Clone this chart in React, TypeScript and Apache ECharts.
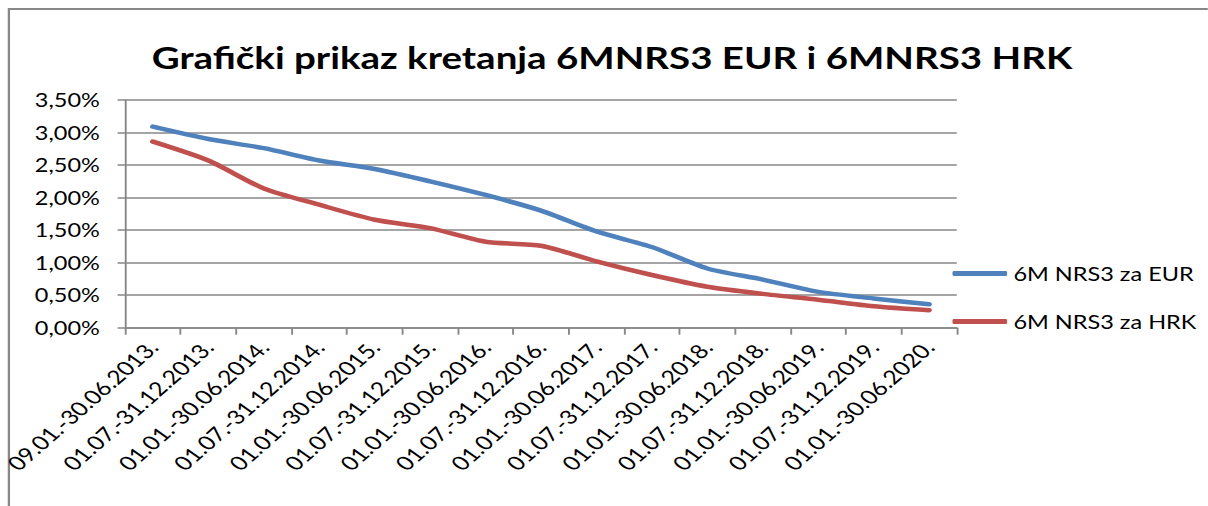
import React, { useEffect, useRef } from "react";
import * as echarts from "echarts";

const categories = [
  "09.01.-30.06.2013.",
  "01.07.-31.12.2013.",
  "01.01.-30.06.2014.",
  "01.07.-31.12.2014.",
  "01.01.-30.06.2015.",
  "01.07.-31.12.2015.",
  "01.01.-30.06.2016.",
  "01.07.-31.12.2016.",
  "01.01.-30.06.2017.",
  "01.07.-31.12.2017.",
  "01.01.-30.06.2018.",
  "01.07.-31.12.2018.",
  "01.01.-30.06.2019.",
  "01.07.-31.12.2019.",
  "01.01.-30.06.2020.",
];

const eurValues = [3.09, 2.9, 2.76, 2.57, 2.44, 2.25, 2.04, 1.8, 1.48, 1.24, 0.91, 0.74, 0.55, 0.45, 0.36];
const hrkValues = [2.86, 2.57, 2.14, 1.89, 1.66, 1.53, 1.32, 1.26, 1.02, 0.81, 0.63, 0.52, 0.43, 0.33, 0.27];

const seriesNames = ["6M NRS3 za EUR", "6M NRS3 za HRK"];
const titleText = "Grafički prikaz kretanja 6MNRS3 EUR i 6MNRS3 HRK";

const STRETCH = 1.27;
const W = 1208;
const H = 506;
const CW = W / STRETCH;

export default function App() {
  const ref = useRef<HTMLDivElement>(null);
  useEffect(() => {
    if (!ref.current) return;
    const chart = echarts.init(ref.current, undefined, { renderer: "svg" });
    const font = "Lato";
    const gray = "#878787";
    chart.setOption({
      animation: false,
      backgroundColor: "#fff",
      textStyle: { fontFamily: font, color: "#000" },
      title: {
        text: titleText,
        left: 114.5,
        top: 37,
        textStyle: { fontFamily: font, fontWeight: "bold", fontSize: 30.3, color: "#000" },
      },
      graphic: [
        {
          type: "rect",
          shape: { x: 7, y: 9, width: 2000, height: 1000 },
          style: { fill: "none", stroke: gray, lineWidth: 1.8 },
          silent: true,
        },
      ],
      legend: {
        orient: "vertical",
        left: 745,
        top: 259,
        itemWidth: 43,
        itemHeight: 5,
        itemGap: 29,
        itemTextGap: 3,
        icon: "roundRect",
        textStyle: { fontFamily: font, fontSize: 18.5, color: "#000" },
        data: seriesNames,
      },
      grid: { left: 122 / STRETCH, right: CW - 957 / STRETCH, top: 100, bottom: H - 327.7 },
      xAxis: {
        type: "category",
        data: categories,
        boundaryGap: true,
        axisLine: { lineStyle: { color: gray, width: 1.5 } },
        axisTick: { show: true, alignWithLabel: false, length: 7, lineStyle: { color: gray, width: 1.5 } },
        axisLabel: {
          interval: 0,
          rotate: 48,
          margin: 16,
          fontFamily: font,
          fontSize: 19.5,
          color: "#000",
        },
      },
      yAxis: {
        type: "value",
        min: 0,
        max: 3.5,
        interval: 0.5,
        axisLine: { show: true, lineStyle: { color: gray, width: 1.5 } },
        axisTick: { show: true, length: 6, lineStyle: { color: gray, width: 1.5 } },
        splitLine: { show: true, lineStyle: { color: gray, width: 1.5 } },
        axisLabel: {
          margin: 20,
          fontFamily: font,
          fontSize: 18.5,
          color: "#000",
          formatter: (v: number) => v.toFixed(2).replace(".", ",") + "%",
        },
      },
      series: [
        {
          name: seriesNames[0],
          type: "line",
          data: eurValues,
          smooth: 0.25,
          showSymbol: false,
          symbol: "none",
          lineStyle: { color: "#4F81BD", width: 4.5, cap: "round", join: "round" },
          itemStyle: { color: "#4F81BD" },
        },
        {
          name: seriesNames[1],
          type: "line",
          data: hrkValues,
          smooth: 0.25,
          showSymbol: false,
          symbol: "none",
          lineStyle: { color: "#C0504D", width: 4.5, cap: "round", join: "round" },
          itemStyle: { color: "#C0504D" },
        },
      ],
    });
    return () => chart.dispose();
  }, []);
  return (
    <div
      style={{
        position: "fixed",
        left: 0,
        top: 0,
        width: W,
        height: H,
        overflow: "hidden",
        background: "#fff",
      }}
    >
      <div
        ref={ref}
        style={{
          width: CW,
          height: H,
          transform: `scaleX(${STRETCH})`,
          transformOrigin: "0 0",
        }}
      />
    </div>
  );
}
